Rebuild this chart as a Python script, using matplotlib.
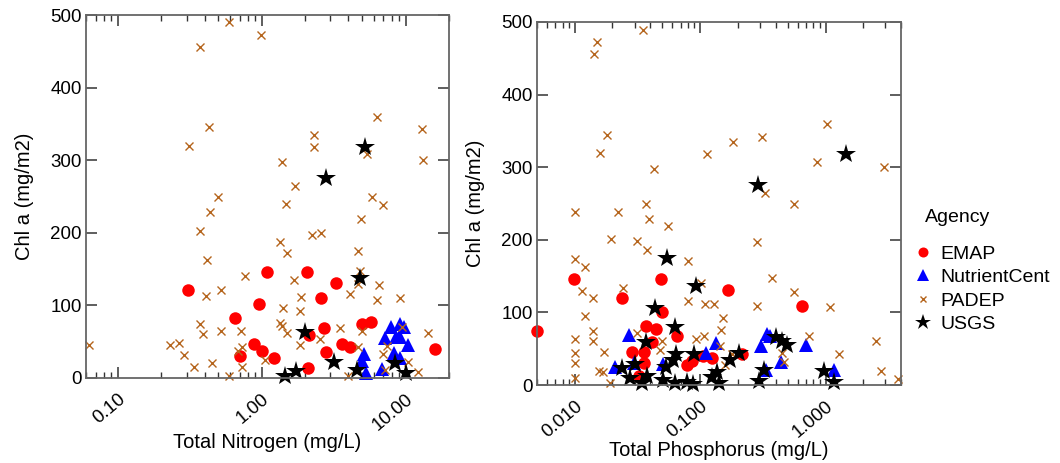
import matplotlib
matplotlib.use("Agg")
import matplotlib.pyplot as plt
from matplotlib.ticker import LogLocator, NullFormatter, FixedLocator, FixedFormatter
from matplotlib.lines import Line2D

plt.rcParams["font.family"] = ["Liberation Sans", "DejaVu Sans"]

# ---- Total Nitrogen panel (mg/L vs Chl a mg/m2) ----
tn_emap = [0.306, 0.65, 0.70, 0.88, 0.95, 1.0, 1.08, 1.21, 2.05, 2.09, 2.57, 2.12,
           2.7, 2.78, 3.27, 3.6, 4.08, 5.0, 5.7, 15.9]
chl_tn_emap = [121, 83, 30, 47, 102, 37, 146, 28, 146, 14, 110, 59,
               69, 36, 131, 47, 43, 75, 77, 40]

tn_nc = [7.9, 9.2, 9.7, 7.2, 8.5, 9.2, 10.3, 5.1, 5.0, 8.3, 9.2, 6.8, 5.3]
chl_tn_nc = [70, 75, 70, 55, 57, 57, 45, 33, 24, 34, 28, 12, 7]

tn_padep = [0.063, 0.59, 0.98, 0.37, 0.43, 0.31, 0.50, 6.3, 2.3, 2.3, 1.38, 1.69,
            12.9, 13.1, 5.4, 5.8, 0.435, 0.37, 0.415, 0.77, 0.52, 0.41, 0.37, 0.39,
            0.52, 0.715, 0.23, 0.265, 0.287, 0.337, 0.45, 0.59, 0.725, 0.68, 0.725,
            1.47, 7.0, 4.87, 1.33, 1.49, 2.22, 2.57, 4.64, 1.67, 1.87, 1.40, 1.84,
            4.08, 4.64, 4.8, 6.5, 6.3, 9.2, 1.33, 1.38, 1.49, 1.84, 2.53, 3.48, 5.0,
            4.64, 9.4, 14.2, 7.4, 7.0, 10.3, 7.2, 12.1, 4.0, 1.05]
chl_tn_padep = [45, 490, 472, 456, 346, 320, 249, 360, 335, 318, 297, 264,
                343, 300, 308, 250, 229, 202, 163, 140, 121, 113, 74, 61,
                65, 65, 45, 48, 32, 15, 21, 3, 43, 37, 15,
                240, 238, 219, 187, 172, 197, 200, 175, 135, 112, 96, 92,
                116, 129, 147, 128, 107, 110, 76, 72, 62, 45, 54, 69, 65,
                43, 70, 62, 44, 33, 22, 11, 8, 3, 25]

tn_usgs = [5.2, 2.78, 4.8, 1.99, 1.44, 1.72, 3.16, 4.57, 8.4, 10.0]
chl_tn_usgs = [318, 275, 138, 63, 3, 10, 22, 11, 21, 7]

# ---- Total Phosphorus panel ----
tp_emap = [0.005, 0.0098, 0.0238, 0.0488, 0.0497, 0.037, 0.0445, 0.0655, 0.0413,
           0.0286, 0.0356, 0.0356, 0.0325, 0.0787, 0.086, 0.106, 0.125, 0.168,
           0.217, 0.655]
chl_tp_emap = [74, 146, 120, 146, 100, 81, 77, 67, 59,
               45, 45, 30, 12, 28, 33, 40, 37, 131,
               43, 109]

tp_nc = [0.027, 0.0209, 0.0506, 0.0297, 0.134, 0.112, 0.344, 0.363, 0.308,
         0.445, 0.705, 0.337, 1.16]
chl_tp_nc = [69, 25, 29, 30, 58, 44, 70, 67, 54, 32, 55, 21, 21]

tp_padep = [0.015, 0.0142, 0.035, 0.018, 0.0158, 0.043, 0.114, 0.184, 0.313, 1.02,
            0.86, 2.91, 0.33, 0.01, 0.022, 0.037, 0.039, 0.0555, 0.0194, 0.0313,
            0.038, 0.01, 0.012, 0.0114, 0.0139, 0.0242, 0.012, 0.080, 0.102, 0.080,
            0.110, 0.01, 0.0139, 0.0139, 0.01, 0.01, 0.017, 0.0156, 0.0168, 0.019,
            0.01, 0.0313, 0.0497, 0.108, 0.093, 0.048, 0.565, 0.286, 0.377, 0.565,
            0.13, 0.286, 1.08, 0.153, 0.147, 0.145, 0.745, 0.453, 0.47, 1.27,
            2.51, 2.75, 3.77, 0.18, 0.158]
chl_tp_padep = [472, 456, 489, 344, 320, 297, 318, 335, 342, 359,
                307, 300, 264, 238, 238, 249, 229, 219, 201, 198,
                186, 174, 163, 129, 120, 134, 95, 171, 140, 116,
                111, 63, 74, 60, 44, 30, 45, 19, 18, 3,
                10, 71, 61, 67, 64, 48, 250, 197, 147, 128,
                111, 109, 107, 92, 76, 54, 67, 44, 32, 43,
                61, 19, 8, 43, 28]

tp_usgs = [1.47, 0.29, 0.0545, 0.093, 0.0437, 0.063, 0.037, 0.064, 0.0895, 0.061,
           0.0535, 0.0238, 0.030, 0.0275, 0.038, 0.0344, 0.0506, 0.063, 0.0787,
           0.088, 0.125, 0.137, 0.142, 0.174, 0.205, 0.296, 0.325, 0.405, 0.453,
           0.497, 0.98, 1.16]
chl_tp_usgs = [318, 275, 175, 136, 106, 80, 59, 43, 43, 34,
               25, 23, 29, 10, 12, 3, 7, 3, 4,
               1, 11, 18, 3, 34, 44, 6, 21, 66, 61,
               55, 19, 4]

agencies = ["EMAP", "NutrientCent", "PADEP", "USGS"]
y_ticks = [0, 100, 200, 300, 400, 500]
tn_ticks = [0.1, 1.0, 10.0]
tn_tick_labels = ["0.10", "1.00", "10.00"]
tp_ticks = [0.01, 0.1, 1.0]
tp_tick_labels = ["0.010", "0.100", "1.000"]

styles = {
    "EMAP": dict(marker="o", color="#ff0000", ms=9, mew=0),
    "NutrientCent": dict(marker="^", color="#0000ff", ms=10, mew=0),
    "PADEP": dict(marker="x", color="#b5651d", ms=5.5, mew=1.0),
    "USGS": dict(marker="*", color="#000000", ms=14.5, mew=0),
}

fig = plt.figure(figsize=(10.6, 4.63), dpi=100)
ax1 = fig.add_axes([86 / 1060, 85 / 463, 363 / 1060, 363 / 463])
ax2 = fig.add_axes([537 / 1060, 78 / 463, 364 / 1060, 363 / 463])


def draw(ax, series, xlim, ticks, labels, xlabel, xlabel_y):
    for name, (xs, ys) in zip(agencies, series):
        ax.plot(xs, ys, linestyle="none", clip_on=False, **styles[name])
    ax.set_xscale("log")
    ax.set_xlim(*xlim)
    ax.set_ylim(0, 500)
    ax.xaxis.set_major_locator(FixedLocator(ticks))
    ax.xaxis.set_major_formatter(FixedFormatter(labels))
    ax.xaxis.set_minor_locator(LogLocator(base=10, subs=range(2, 10)))
    ax.xaxis.set_minor_formatter(NullFormatter())
    ax.set_yticks(y_ticks)
    ax.tick_params(which="both", direction="in", top=True, right=True,
                   color="#333333", labelsize=13.5)
    ax.tick_params(which="major", length=8, width=1.1)
    ax.tick_params(which="minor", length=4, width=1.0)
    ax.tick_params(axis="x", which="major", pad=9)
    ax.tick_params(axis="y", which="major", pad=3)
    for lbl in ax.get_xticklabels():
        lbl.set_rotation(40)
        lbl.set_ha("right")
        lbl.set_va("top")
        lbl.set_rotation_mode("anchor")
    for sp in ax.spines.values():
        sp.set_color("#666666")
        sp.set_linewidth(1.3)
    ax.set_xlabel(xlabel, fontsize=14.5, va="center")
    ax.xaxis.set_label_coords(0.5, xlabel_y)
    ax.set_ylabel("Chl a (mg/m2)", fontsize=14.5, labelpad=12)


draw(ax1, [(tn_emap, chl_tn_emap), (tn_nc, chl_tn_nc),
           (tn_padep, chl_tn_padep), (tn_usgs, chl_tn_usgs)],
     (0.06, 20), tn_ticks, tn_tick_labels, "Total Nitrogen (mg/L)",
     -(442 - 378) / 363)
draw(ax2, [(tp_emap, chl_tp_emap), (tp_nc, chl_tp_nc),
           (tp_padep, chl_tp_padep), (tp_usgs, chl_tp_usgs)],
     (0.005, 4), tp_ticks, tp_tick_labels, "Total Phosphorus (mg/L)",
     -(450 - 385) / 363)

handles = []
for name in agencies:
    st = dict(styles[name])
    st["ms"] = st["ms"] * 0.8
    handles.append(Line2D([], [], linestyle="none", **st))
fig.text(925 / 1060, 1 - 218 / 463, "Agency", fontsize=14, ha="left", va="center")
fig.legend(handles, agencies, loc="upper left",
           bbox_to_anchor=(913 / 1060, 1 - 245 / 463), frameon=False,
           fontsize=14, handlelength=1.0, handletextpad=0.4,
           labelspacing=0.3, borderpad=0, borderaxespad=0)

fig.savefig("out.png", dpi=100)
